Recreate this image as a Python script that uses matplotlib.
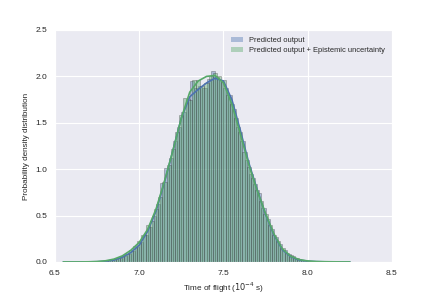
import numpy as np
import matplotlib
matplotlib.use("Agg")
import matplotlib.pyplot as plt
from matplotlib.patches import Patch
import seaborn as sns

# histogram bins (bin centres) and density heights
bin_width = 0.025
pred_centres = np.round(6.7125 + bin_width * np.arange(56), 4)
pred_heights = [0.001, 0.002, 0.003, 0.006, 0.01, 0.016, 0.03, 0.04, 0.06, 0.09,
                0.12, 0.16, 0.21, 0.29, 0.38, 0.50, 0.62, 0.85, 1.01, 1.12,
                1.30, 1.45, 1.62, 1.76, 1.95, 1.88, 1.90, 1.88, 1.97, 2.06,
                1.99, 1.96, 1.88, 1.80, 1.65, 1.45, 1.30, 1.10, 0.95, 0.84,
                0.74, 0.58, 0.46, 0.36, 0.27, 0.19, 0.13, 0.09, 0.06, 0.04,
                0.025, 0.015, 0.01, 0.006, 0.003, 0.002]

epi_centres = np.round(6.725 + bin_width * np.arange(56), 4)
epi_heights = [0.002, 0.004, 0.007, 0.012, 0.02, 0.03, 0.045, 0.065, 0.09, 0.13,
               0.17, 0.22, 0.29, 0.40, 0.44, 0.57, 0.70, 0.86, 1.05, 1.22,
               1.40, 1.58, 1.77, 1.75, 1.96, 1.96, 1.90, 1.93, 2.00, 2.04,
               2.00, 1.96, 1.80, 1.70, 1.55, 1.40, 1.18, 1.02, 0.90, 0.78,
               0.66, 0.52, 0.40, 0.29, 0.22, 0.15, 0.10, 0.07, 0.045, 0.03,
               0.02, 0.012, 0.008, 0.005, 0.003, 0.002]

# kde curves
kde_x = [6.55, 6.60, 6.65, 6.70, 6.75, 6.80, 6.85, 6.90, 6.95, 7.00,
         7.05, 7.10, 7.15, 7.20, 7.25, 7.30, 7.35, 7.40, 7.45, 7.50,
         7.55, 7.60, 7.65, 7.70, 7.75, 7.80, 7.85, 7.90, 7.95, 8.00,
         8.05, 8.10, 8.15, 8.20, 8.25]
pred_kde = [0, 0, 0, 0.0005, 0.002, 0.007, 0.02, 0.05, 0.10, 0.18,
            0.33, 0.55, 0.86, 1.20, 1.55, 1.78, 1.86, 1.93, 1.98, 1.95,
            1.75, 1.42, 1.07, 0.78, 0.51, 0.29, 0.13, 0.055, 0.02, 0.008,
            0.003, 0.001, 0, 0, 0]
epi_kde = [0, 0, 0, 0.001, 0.004, 0.012, 0.03, 0.065, 0.125, 0.21,
           0.35, 0.57, 0.87, 1.20, 1.55, 1.83, 1.95, 2.00, 2.01, 1.93,
           1.70, 1.38, 1.05, 0.77, 0.52, 0.30, 0.14, 0.06, 0.025, 0.01,
           0.004, 0.002, 0.001, 0, 0]

labels = ["Predicted output", "Predicted output + Epistemic uncertainty"]

sns.set_style("darkgrid")
plt.rcParams['font.family'] = ['Liberation Sans', 'DejaVu Sans']

blue = "#4C72B0"
green = "#55A868"

fig = plt.figure(figsize=(4.36, 3.0), dpi=100)
ax = fig.add_axes([0.126, 0.127, 0.773, 0.773])

ax.bar(pred_centres, pred_heights, width=bin_width, color=blue, alpha=0.4,
       edgecolor="0.15", linewidth=0.5)
ax.plot(kde_x, pred_kde, color=blue, lw=1.2)
ax.bar(epi_centres, epi_heights, width=bin_width, color=green, alpha=0.4,
       edgecolor="0.15", linewidth=0.5)
ax.plot(kde_x, epi_kde, color=green, lw=1.2)

ax.set_xlim(6.5, 8.5)
ax.set_ylim(0, 2.5)
ax.set_xticks([6.5, 7.0, 7.5, 8.0, 8.5])
ax.set_yticks([0.0, 0.5, 1.0, 1.5, 2.0, 2.5])
ax.tick_params(labelsize=6, pad=2)
ax.set_xlabel(r"Time of flight ($10^{-4}$ s)", fontsize=5.9, labelpad=3)
ax.set_ylabel("Probability density distribution", fontsize=5.9, labelpad=4)

handles = [Patch(facecolor=blue, alpha=0.4, edgecolor="none"),
           Patch(facecolor=green, alpha=0.4, edgecolor="none")]
ax.legend(handles, labels, loc="upper right", fontsize=5.4, frameon=False,
          handlelength=1.6, handleheight=0.6, handletextpad=0.8,
          labelspacing=0.45, borderaxespad=0.5)

fig.savefig("out.png", dpi=100)
